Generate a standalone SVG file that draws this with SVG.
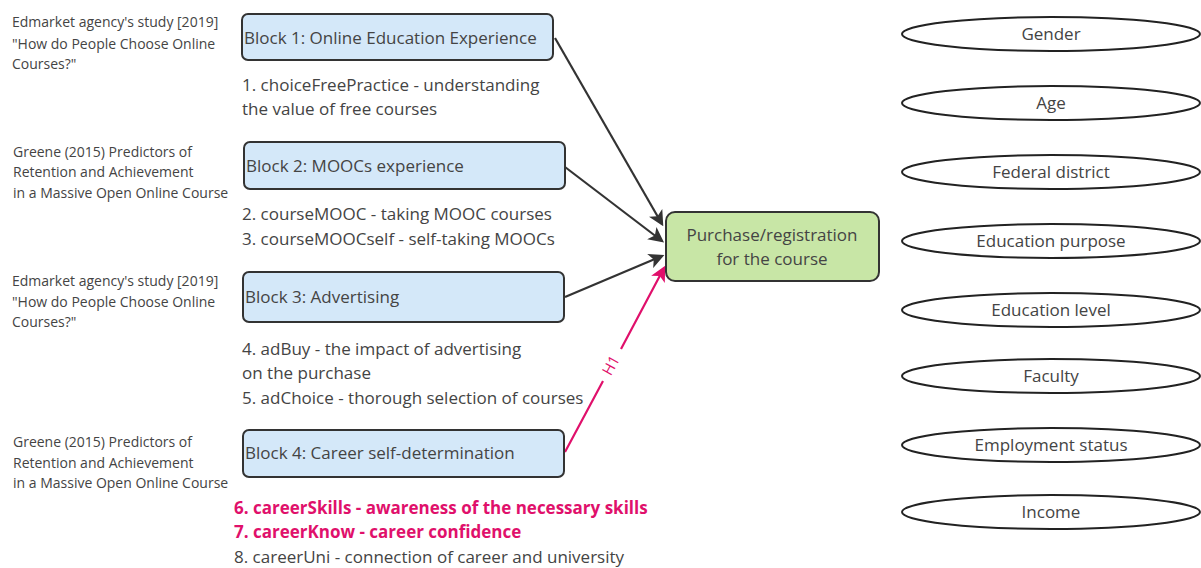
<svg xmlns="http://www.w3.org/2000/svg" width="1201" height="568" viewBox="0 0 1201 568">
<defs>
<style>
text{font-family:"Open Sans","Noto Sans","Liberation Sans",sans-serif;fill:#444;}
.note{font-size:14px;}
.blk{fill:#d4e8f9;stroke:#333;stroke-width:2;}
.bt{font-size:17px;}
.desc{font-size:17px;}
.pink{fill:#e0106b;font-weight:bold;}
.ell{fill:#fff;stroke:#222;stroke-width:2;}
.et{font-size:17px;text-anchor:middle;}
.con{fill:none;stroke:#333;stroke-width:2.2;}
.conp{fill:none;stroke:#e0106b;stroke-width:2.2;}
</style>
<marker id="ah" viewBox="0 0 12 12" refX="10" refY="6" markerWidth="7" markerHeight="7" orient="auto" markerUnits="strokeWidth">
<path d="M0,0 L12,6 L0,12 L3,6 Z" fill="#333"/>
</marker>
<marker id="ahp" viewBox="0 0 12 12" refX="10" refY="6" markerWidth="7" markerHeight="7" orient="auto" markerUnits="strokeWidth">
<path d="M0,0 L12,6 L0,12 L3,6 Z" fill="#e0106b"/>
</marker>
</defs>
<rect width="1201" height="568" fill="#fff"/>

<g id="connectors">
<line class="con" x1="555" y1="38" x2="662" y2="224" marker-end="url(#ah)"/>
<line class="con" x1="565" y1="167" x2="662" y2="241" marker-end="url(#ah)"/>
<line class="con" x1="565" y1="297" x2="662" y2="256" marker-end="url(#ah)"/>
<path class="conp" d="M565,452 L603,381 M621,349 L664,268" marker-end="url(#ahp)"/>
<text transform="translate(612,366) rotate(-61)" text-anchor="middle" dominant-baseline="middle" style="font-size:15px;fill:#e0106b">H1</text>
</g>

<g id="note1"><text class="note"><tspan x="12" y="27">Edmarket agency's study [2019]</tspan><tspan x="12" y="49">"How do People Choose Online</tspan><tspan x="12" y="69">Courses?"</tspan></text></g>
<g id="note2"><text class="note"><tspan x="13" y="157">Greene (2015) Predictors of</tspan><tspan x="13" y="177">Retention and Achievement</tspan><tspan x="13" y="198">in a Massive Open Online Course</tspan></text></g>
<g id="note3"><text class="note"><tspan x="12" y="286">Edmarket agency's study [2019]</tspan><tspan x="12" y="307">"How do People Choose Online</tspan><tspan x="12" y="327">Courses?"</tspan></text></g>
<g id="note4"><text class="note"><tspan x="13" y="447">Greene (2015) Predictors of</tspan><tspan x="13" y="468">Retention and Achievement</tspan><tspan x="13" y="488">in a Massive Open Online Course</tspan></text></g>

<g id="block1"><rect class="blk" x="242" y="14" width="311" height="46" rx="6"/><text class="bt" x="244" y="44">Block 1: Online Education Experience</text></g>
<g id="desc1"><text class="desc"><tspan x="242" y="91">1. choiceFreePractice - understanding</tspan><tspan x="242" y="115">the value of free courses</tspan></text></g>

<g id="block2"><rect class="blk" x="244" y="142" width="321" height="47" rx="6"/><text class="bt" x="246" y="172">Block 2: MOOCs experience</text></g>
<g id="desc2"><text class="desc"><tspan x="242" y="220">2. courseMOOC - taking MOOC courses</tspan><tspan x="242" y="245">3. courseMOOCself - self-taking MOOCs</tspan></text></g>

<g id="block3"><rect class="blk" x="243" y="272" width="321" height="50" rx="6"/><text class="bt" x="245" y="303">Block 3: Advertising</text></g>
<g id="desc3"><text class="desc"><tspan x="242" y="355">4. adBuy - the impact of advertising</tspan><tspan x="242" y="379">on the purchase</tspan><tspan x="242" y="404">5. adChoice - thorough selection of courses</tspan></text></g>

<g id="block4"><rect class="blk" x="243" y="430" width="321" height="47" rx="6"/><text class="bt" x="245" y="459">Block 4: Career self-determination</text></g>
<g id="desc4"><text class="desc"><tspan class="pink" x="234" y="514">6. careerSkills - awareness of the necessary skills</tspan><tspan class="pink" x="234" y="538">7. careerKnow - career confidence</tspan><tspan x="234" y="563">8. careerUni - connection of career and university</tspan></text></g>

<g id="target"><rect x="666" y="212" width="213" height="69" rx="9" fill="#c8e6a6" stroke="#333" stroke-width="2"/><text class="et"><tspan x="772" y="241">Purchase/registration</tspan><tspan x="772" y="265">for the course</tspan></text></g>

<g id="gender"><ellipse class="ell" cx="1051" cy="34" rx="149" ry="17"/><text class="et" x="1051" y="40">Gender</text></g>
<g id="age"><ellipse class="ell" cx="1051" cy="103" rx="149" ry="17"/><text class="et" x="1051" y="109">Age</text></g>
<g id="district"><ellipse class="ell" cx="1051" cy="172" rx="149" ry="17"/><text class="et" x="1051" y="178">Federal district</text></g>
<g id="purpose"><ellipse class="ell" cx="1051" cy="241" rx="149" ry="17"/><text class="et" x="1051" y="247">Education purpose</text></g>
<g id="level"><ellipse class="ell" cx="1051" cy="310" rx="149" ry="17"/><text class="et" x="1051" y="316">Education level</text></g>
<g id="faculty"><ellipse class="ell" cx="1051" cy="376" rx="149" ry="17"/><text class="et" x="1051" y="382">Faculty</text></g>
<g id="employment"><ellipse class="ell" cx="1051" cy="445" rx="149" ry="17"/><text class="et" x="1051" y="451">Employment status</text></g>
<g id="income"><ellipse class="ell" cx="1051" cy="512" rx="149" ry="17"/><text class="et" x="1051" y="518">Income</text></g>
</svg>
